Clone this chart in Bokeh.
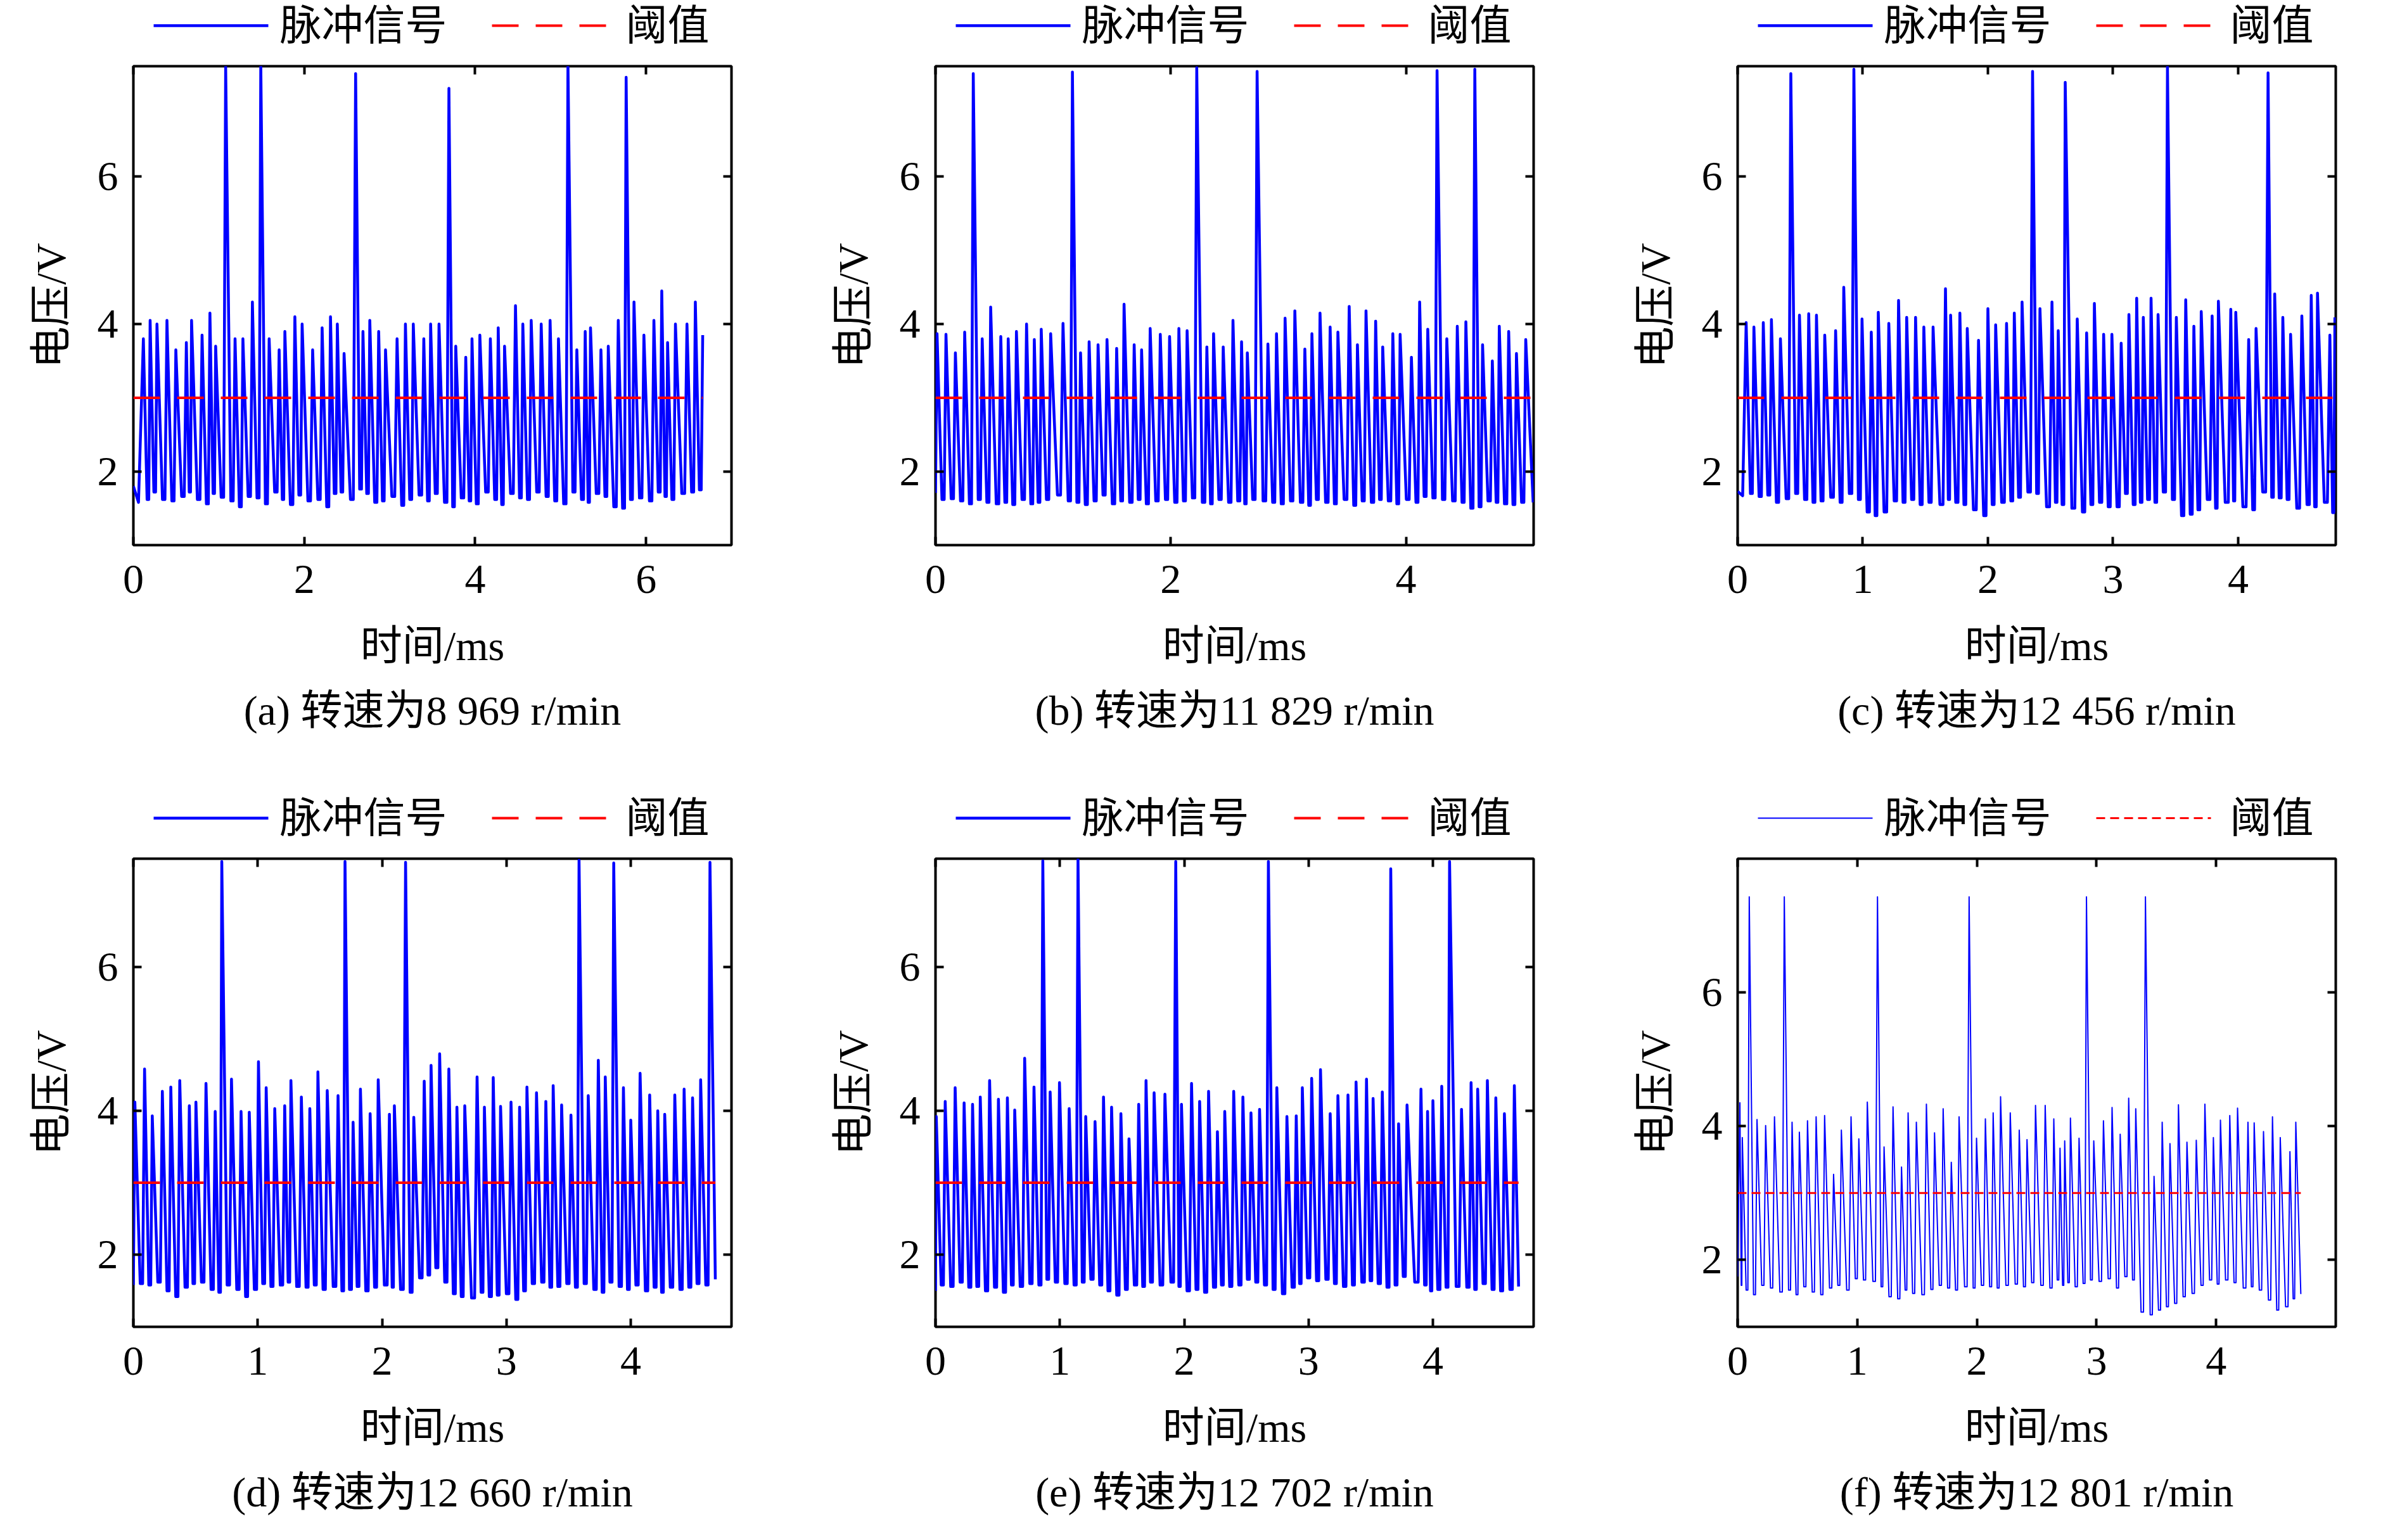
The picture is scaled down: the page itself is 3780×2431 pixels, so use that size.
import numpy as np

from bokeh.plotting import figure
from bokeh.layouts import column, row
from bokeh.models import Range1d, LinearAxis, FixedTicker, Title
from bokeh.core.properties import value
from bokeh.embed import file_html
from bokeh.resources import INLINE

# fonts: Times-like for latin, CJK falls back
FONT = "Liberation Serif, Noto Sans CJK SC"
FS = "66px"

THRESHOLD = 3.0
LEGEND_LABELS = ["脉冲信号", "阈值"]

# ---- panel (a) 8 969 r/min ----
A_PEAK_T = [0.117, 0.196, 0.276, 0.393, 0.497, 0.620, 0.681, 0.804, 0.896, 0.963,
            1.080, 1.190, 1.282, 1.393, 1.491, 1.589, 1.706, 1.773, 1.890, 1.975,
            2.098, 2.209, 2.307, 2.387, 2.466, 2.601, 2.687, 2.767, 2.871, 2.951,
            3.086, 3.184, 3.276, 3.399, 3.479, 3.577, 3.693, 3.773, 3.890, 3.963,
            4.055, 4.178, 4.270, 4.344, 4.472, 4.558, 4.656, 4.773, 4.877, 4.975,
            5.086, 5.190, 5.288, 5.350, 5.472, 5.558, 5.675, 5.767, 5.859, 5.975,
            6.092, 6.184, 6.252, 6.344, 6.479, 6.577, 6.663]
A_PEAK_V = [3.80, 4.05, 4.00, 4.05, 3.65, 3.75, 4.05, 3.85, 4.15, 3.70,
            7.50, 3.80, 3.80, 4.30, 7.55, 3.80, 3.65, 3.90, 4.10, 4.00,
            3.65, 3.95, 4.10, 4.00, 3.60, 7.40, 3.90, 4.05, 3.90, 3.65,
            3.80, 4.00, 4.00, 3.80, 4.00, 4.00, 7.20, 3.70, 3.55, 3.80,
            3.85, 3.80, 3.95, 3.70, 4.25, 4.00, 4.05, 4.00, 4.05, 3.80,
            7.55, 3.65, 3.90, 3.95, 3.65, 3.70, 4.05, 7.35, 4.30, 3.85,
            4.05, 4.45, 3.75, 4.00, 4.00, 4.30, 3.85]
A_LOW_V = [1.62, 1.72, 1.62, 1.60, 1.66, 1.72, 1.62, 1.56, 1.70, 1.65,
           1.60, 1.52, 1.66, 1.64, 1.56, 1.72, 1.62, 1.55, 1.68, 1.60,
           1.62, 1.52, 1.70, 1.72, 1.62, 1.76, 1.70, 1.58, 1.60, 1.66,
           1.54, 1.62, 1.68, 1.60, 1.70, 1.58, 1.52, 1.64, 1.60, 1.56,
           1.72, 1.62, 1.55, 1.70, 1.64, 1.62, 1.72, 1.66, 1.60, 1.56,
           1.72, 1.62, 1.58, 1.70, 1.66, 1.52, 1.50, 1.62, 1.64, 1.60,
           1.72, 1.66, 1.62, 1.70, 1.72, 1.75]
A_START_T, A_START_V = [0.0, 0.06], [1.80, 1.58]
A_END_T, A_END_V = [], []

# ---- panel (b) 11 829 r/min ----
B_PEAK_T = [0.013, 0.089, 0.169, 0.248, 0.321, 0.397, 0.469, 0.555, 0.618, 0.688,
            0.774, 0.840, 0.899, 0.979, 1.084, 1.164, 1.233, 1.306, 1.382, 1.458,
            1.540, 1.603, 1.689, 1.752, 1.825, 1.911, 1.990, 2.069, 2.139, 2.221,
            2.307, 2.364, 2.446, 2.529, 2.602, 2.651, 2.734, 2.826, 2.899, 2.972,
            3.055, 3.140, 3.200, 3.269, 3.355, 3.421, 3.517, 3.587, 3.660, 3.742,
            3.802, 3.888, 3.950, 4.046, 4.116, 4.185, 4.264, 4.347, 4.436, 4.509,
            4.585, 4.651, 4.734, 4.793, 4.873, 4.939, 5.018]
B_PEAK_V = [3.87, 3.86, 3.61, 3.89, 7.40, 3.80, 4.23, 3.83, 3.80, 3.90,
            4.00, 3.79, 3.93, 3.87, 4.01, 7.42, 3.61, 3.76, 3.72, 3.79,
            3.67, 4.27, 3.72, 3.65, 3.94, 3.86, 3.83, 3.94, 3.91, 7.48,
            3.69, 3.87, 3.69, 4.05, 3.76, 3.61, 7.43, 3.73, 3.87, 4.08,
            4.18, 3.66, 3.87, 4.15, 3.96, 3.89, 4.24, 3.72, 4.18, 4.04,
            3.69, 3.87, 3.86, 3.55, 4.30, 3.93, 7.44, 3.80, 3.97, 4.03,
            7.46, 3.72, 3.50, 3.97, 3.90, 3.60, 3.79]
B_LOW_V = [1.62, 1.63, 1.60, 1.56, 1.62, 1.58, 1.56, 1.58, 1.55, 1.62,
           1.56, 1.58, 1.62, 1.68, 1.60, 1.58, 1.55, 1.60, 1.68, 1.56,
           1.60, 1.58, 1.62, 1.56, 1.60, 1.62, 1.58, 1.60, 1.64, 1.58,
           1.56, 1.62, 1.58, 1.60, 1.56, 1.62, 1.60, 1.58, 1.56, 1.60,
           1.58, 1.54, 1.62, 1.58, 1.56, 1.62, 1.54, 1.60, 1.58, 1.62,
           1.60, 1.56, 1.62, 1.58, 1.66, 1.64, 1.62, 1.60, 1.58, 1.50,
           1.52, 1.60, 1.58, 1.56, 1.55, 1.58]
B_START_T, B_START_V = [0.0], [1.71]
B_END_T, B_END_V = [5.081], [1.58]

# ---- panel (c) 12 456 r/min ----
C_PEAK_T = [0.068, 0.130, 0.205, 0.270, 0.342, 0.425, 0.494, 0.568, 0.630, 0.696,
            0.783, 0.848, 0.929, 0.994, 1.068, 1.124, 1.208, 1.286, 1.351, 1.422,
            1.488, 1.562, 1.661, 1.702, 1.776, 1.835, 1.925, 2.000, 2.062, 2.149,
            2.211, 2.273, 2.357, 2.416, 2.512, 2.562, 2.618, 2.714, 2.789, 2.851,
            2.925, 2.991, 3.065, 3.127, 3.189, 3.242, 3.304, 3.360, 3.435, 3.506,
            3.581, 3.646, 3.705, 3.792, 3.842, 3.941, 3.981, 4.084, 4.143, 4.239,
            4.292, 4.357, 4.419, 4.509, 4.584, 4.634, 4.733, 4.773]
C_PEAK_V = [4.02, 3.96, 4.02, 4.06, 3.80, 7.40, 4.12, 4.14, 4.12, 3.85,
            3.91, 4.50, 7.46, 4.07, 3.89, 4.16, 4.01, 4.32, 4.09, 4.09,
            3.96, 3.96, 4.48, 4.12, 4.15, 3.94, 3.78, 4.21, 3.99, 4.01,
            4.15, 4.30, 7.43, 4.21, 4.30, 3.91, 7.28, 4.07, 3.88, 4.28,
            3.86, 3.86, 3.74, 4.13, 4.35, 4.09, 4.35, 4.13, 7.49, 4.09,
            4.33, 3.97, 4.17, 4.11, 4.31, 4.20, 4.16, 3.79, 3.94, 7.41,
            4.41, 4.09, 3.86, 4.11, 4.39, 4.42, 3.85, 4.09]
C_LOW_V = [1.70, 1.66, 1.68, 1.58, 1.63, 1.70, 1.62, 1.58, 1.60, 1.65,
           1.58, 1.70, 1.62, 1.45, 1.40, 1.45, 1.60, 1.58, 1.62, 1.55,
           1.58, 1.55, 1.62, 1.58, 1.55, 1.48, 1.40, 1.55, 1.58, 1.60,
           1.65, 1.72, 1.70, 1.52, 1.58, 1.55, 1.50, 1.45, 1.55, 1.58,
           1.52, 1.52, 1.70, 1.55, 1.58, 1.62, 1.58, 1.72, 1.62, 1.40,
           1.42, 1.48, 1.62, 1.50, 1.58, 1.60, 1.52, 1.48, 1.72, 1.65,
           1.64, 1.62, 1.50, 1.55, 1.52, 1.58, 1.44]
C_START_T, C_START_V = [0.0, 0.04], [1.73, 1.67]
C_END_T, C_END_V = [], []

# ---- panel (d) 12 660 r/min ----
D_PEAK_T = [0.012, 0.090, 0.152, 0.233, 0.301, 0.373, 0.450, 0.503, 0.584, 0.658,
            0.711, 0.789, 0.866, 0.932, 1.006, 1.068, 1.137, 1.217, 1.267, 1.351,
            1.419, 1.484, 1.559, 1.646, 1.702, 1.767, 1.826, 1.904, 1.969, 2.059,
            2.099, 2.189, 2.255, 2.339, 2.394, 2.463, 2.537, 2.602, 2.665, 2.764,
            2.823, 2.894, 2.953, 3.037, 3.106, 3.165, 3.242, 3.317, 3.376, 3.444,
            3.519, 3.584, 3.658, 3.739, 3.795, 3.863, 3.941, 4.000, 4.075, 4.152,
            4.217, 4.273, 4.354, 4.429, 4.497, 4.562, 4.637]
D_PEAK_V = [4.12, 4.58, 3.93, 4.27, 4.33, 4.42, 4.07, 4.12, 4.38, 3.99,
            7.46, 4.44, 3.99, 3.98, 4.68, 4.32, 4.03, 4.07, 4.42, 4.19,
            4.03, 4.54, 4.28, 4.21, 7.46, 3.84, 4.30, 3.96, 4.43, 3.95,
            4.07, 7.45, 3.91, 4.41, 4.63, 4.79, 4.58, 4.05, 4.07, 4.47,
            4.05, 4.46, 4.06, 4.12, 4.05, 4.33, 4.25, 4.13, 4.35, 4.08,
            3.94, 7.48, 4.21, 4.70, 4.47, 7.44, 4.32, 3.87, 4.52, 4.22,
            4.00, 3.95, 4.22, 4.30, 4.18, 4.43, 7.45]
D_LOW_V = [1.60, 1.58, 1.62, 1.50, 1.42, 1.55, 1.60, 1.62, 1.52, 1.48,
           1.58, 1.52, 1.42, 1.52, 1.60, 1.56, 1.58, 1.62, 1.56, 1.55,
           1.58, 1.52, 1.56, 1.50, 1.52, 1.56, 1.50, 1.55, 1.58, 1.55,
           1.52, 1.48, 1.68, 1.72, 1.82, 1.62, 1.46, 1.42, 1.40, 1.48,
           1.42, 1.44, 1.46, 1.38, 1.50, 1.60, 1.62, 1.55, 1.56, 1.60,
           1.55, 1.60, 1.52, 1.48, 1.62, 1.56, 1.52, 1.58, 1.50, 1.55,
           1.48, 1.55, 1.52, 1.55, 1.60, 1.58]
D_START_T, D_START_V = [0.0], [1.58]
D_END_T, D_END_V = [4.680], [1.66]

# ---- panel (e) 12 702 r/min ----
E_PEAK_T = [0.006, 0.078, 0.158, 0.230, 0.298, 0.360, 0.435, 0.506, 0.578, 0.637,
            0.717, 0.792, 0.863, 0.922, 0.997, 1.075, 1.146, 1.208, 1.283, 1.351,
            1.416, 1.491, 1.556, 1.634, 1.693, 1.758, 1.845, 1.932, 1.978, 2.059,
            2.124, 2.196, 2.267, 2.326, 2.398, 2.472, 2.537, 2.606, 2.677, 2.745,
            2.826, 2.901, 2.950, 3.025, 3.096, 3.174, 3.236, 3.317, 3.382, 3.466,
            3.519, 3.593, 3.661, 3.724, 3.792, 3.904, 3.957, 4.000, 4.071, 4.134,
            4.230, 4.307, 4.360, 4.438, 4.506, 4.575, 4.655]
E_PEAK_V = [3.92, 4.13, 4.32, 4.11, 4.09, 4.19, 4.42, 4.16, 4.18, 4.01,
            4.73, 4.33, 7.47, 4.26, 4.39, 4.03, 7.49, 3.92, 3.85, 4.19,
            4.05, 3.96, 3.61, 4.09, 4.42, 4.25, 4.23, 7.46, 4.09, 4.38,
            4.13, 4.27, 3.71, 3.99, 4.27, 4.19, 3.97, 4.02, 7.46, 4.32,
            3.92, 3.93, 4.32, 4.45, 4.57, 3.96, 4.21, 4.22, 4.40, 4.44,
            4.17, 4.26, 7.36, 3.82, 4.08, 4.30, 3.99, 4.14, 4.34, 7.46,
            4.02, 4.39, 4.30, 4.42, 4.18, 3.96, 4.35]
E_LOW_V = [1.58, 1.56, 1.62, 1.55, 1.56, 1.50, 1.55, 1.48, 1.58, 1.56,
           1.60, 1.58, 1.66, 1.62, 1.60, 1.58, 1.62, 1.66, 1.58, 1.50,
           1.44, 1.52, 1.58, 1.56, 1.62, 1.58, 1.62, 1.56, 1.50, 1.52,
           1.48, 1.55, 1.58, 1.56, 1.58, 1.66, 1.62, 1.58, 1.52, 1.46,
           1.55, 1.60, 1.68, 1.64, 1.66, 1.60, 1.56, 1.58, 1.62, 1.64,
           1.60, 1.55, 1.58, 1.70, 1.62, 1.58, 1.50, 1.52, 1.55, 1.56,
           1.55, 1.52, 1.60, 1.52, 1.50, 1.52]
E_START_T, E_START_V = [0.0], [1.50]
E_END_T, E_END_V = [4.689], [1.56]

# ---- panel (f) 12 801 r/min ----
F_PEAK_T = [0.019, 0.039, 0.097, 0.162, 0.234, 0.308, 0.390, 0.455, 0.516, 0.584,
            0.656, 0.727, 0.802, 0.867, 0.948, 1.013, 1.084, 1.169, 1.224, 1.299,
            1.370, 1.425, 1.494, 1.578, 1.646, 1.718, 1.786, 1.851, 1.935, 1.997,
            2.071, 2.136, 2.198, 2.279, 2.354, 2.419, 2.490, 2.571, 2.643, 2.695,
            2.734, 2.782, 2.854, 2.916, 2.977, 3.058, 3.130, 3.198, 3.269, 3.328,
            3.409, 3.481, 3.549, 3.614, 3.685, 3.756, 3.834, 3.906, 3.977, 4.036,
            4.114, 4.179, 4.266, 4.318, 4.396, 4.471, 4.536, 4.617, 4.666]
F_PEAK_V = [4.35, 3.83, 7.43, 4.10, 4.01, 4.14, 7.43, 4.06, 3.91, 4.08,
            4.14, 4.16, 3.28, 3.94, 4.14, 3.81, 4.36, 7.43, 3.69, 4.29,
            3.39, 4.20, 4.06, 4.33, 3.90, 4.26, 3.46, 4.14, 7.43, 3.82,
            4.11, 4.20, 4.44, 4.20, 3.94, 3.80, 4.31, 4.31, 4.11, 3.67,
            3.78, 4.12, 3.82, 7.43, 3.78, 4.08, 4.28, 3.88, 4.42, 4.26,
            7.43, 3.25, 4.06, 3.74, 4.32, 3.76, 3.79, 4.33, 3.83, 4.09,
            4.16, 4.27, 4.06, 4.05, 3.92, 4.14, 3.83, 3.62, 4.06]
F_LOW_V = [1.62, 1.55, 1.48, 1.62, 1.58, 1.52, 1.55, 1.48, 1.60, 1.52,
           1.48, 1.58, 1.62, 1.55, 1.72, 1.70, 1.68, 1.60, 1.45, 1.42,
           1.55, 1.50, 1.48, 1.56, 1.62, 1.58, 1.55, 1.60, 1.58, 1.62,
           1.60, 1.58, 1.62, 1.64, 1.60, 1.66, 1.62, 1.58, 1.70, 1.62,
           1.66, 1.60, 1.65, 1.70, 1.68, 1.72, 1.58, 1.75, 1.70, 1.22,
           1.18, 1.25, 1.30, 1.35, 1.45, 1.50, 1.62, 1.70, 1.64, 1.70,
           1.66, 1.58, 1.60, 1.55, 1.40, 1.25, 1.30, 1.42]
F_START_T, F_START_V = [0.0], [1.75]
F_END_T, F_END_V = [4.708], [1.49]


def waveform(peak_t, peak_v, low_v, start_t, start_v, end_t, end_v):
    # connect read peaks with the read baseline level between them
    t = list(start_t)
    v = list(start_v)
    for i in range(len(peak_t)):
        if i > 0:
            gap = peak_t[i] - peak_t[i - 1]
            t += [peak_t[i - 1] + 0.55 * gap, peak_t[i] - 0.2 * gap]
            v += [low_v[i - 1], low_v[i - 1]]
        t.append(peak_t[i])
        v.append(peak_v[i])
    t += list(end_t)
    v += list(end_v)
    return np.array(t), np.array(v)


def style_axis(ax):
    ax.axis_line_color = None
    ax.major_tick_in = 13
    ax.major_tick_out = 0
    ax.major_tick_line_width = 4
    ax.major_tick_line_color = "black"
    ax.minor_tick_line_color = None
    ax.major_label_text_font = FONT
    ax.major_label_text_font_size = FS
    ax.major_label_text_color = "black"


def line_styles(thin):
    if thin:
        return 2, 3, "14 8"
    return 4.5, 4, "42 27"


FRAME_W = 944       # plot box width; the legend strip shares it in the column
BORDER_TOP = 104
LEG_H = 96          # height of the legend strip above each panel
LEG_Y = 56          # key line / label centre inside the strip (from bottom)
KEY_X = [(32, 213), (566, 747)]
LABEL_X = [231, 777]


def make_legend(width, thin=False):
    # legend strip: key line + label for the signal and the threshold
    sig_w, thr_w, dash = line_styles(thin)
    lf = figure(width=width, height=LEG_H, title=None, output_backend="svg",
                toolbar_location=None, x_axis_type=None, y_axis_type=None,
                x_range=Range1d(0, FRAME_W), y_range=Range1d(0, LEG_H),
                min_border=0, outline_line_color=None)
    lf.grid.visible = False
    lf.line(list(KEY_X[0]), [LEG_Y, LEG_Y], line_color="#0000FF", line_width=sig_w)
    lf.line(list(KEY_X[1]), [LEG_Y, LEG_Y], line_color="#FF0000", line_width=thr_w,
            line_dash=dash)
    lf.text(x=LABEL_X, y=[LEG_Y, LEG_Y], text=LEGEND_LABELS,
            text_font=value(FONT), text_font_size=FS, text_color="black",
            text_baseline="middle", text_align="left")
    return lf


def make_panel(caption, wave, x_end, x_ticks, y_end, width, height,
               border_right, border_bottom, thin=False):
    t, v = wave
    p = figure(width=width, height=height - LEG_H, title=None,
               x_range=Range1d(0, x_end), y_range=Range1d(1, y_end),
               output_backend="svg", toolbar_location=None,
               min_border_left=210, min_border_right=border_right,
               min_border_top=BORDER_TOP - LEG_H, min_border_bottom=border_bottom)
    p.grid.visible = False
    p.outline_line_color = "black"
    p.outline_line_width = 4
    p.outline_line_alpha = 1.0
    p.background_fill_color = "white"
    p.border_fill_color = "white"

    xb = p.below[0]
    yl = p.left[0]
    xb.ticker = FixedTicker(ticks=x_ticks)
    yl.ticker = FixedTicker(ticks=[2, 4, 6])
    style_axis(xb)
    style_axis(yl)
    xb.major_label_standoff = 32
    yl.major_label_standoff = 24
    xb.axis_label = "时间/ms"
    yl.axis_label = "电压/V"
    for ax in (xb, yl):
        ax.axis_label_text_font = FONT
        ax.axis_label_text_font_size = FS
        ax.axis_label_text_font_style = "normal"
        ax.axis_label_text_color = "black"
    xb.axis_label_standoff = 44
    yl.axis_label_standoff = 34

    # mirrored tick marks on the top and right edges of the box
    top_axis = LinearAxis(ticker=FixedTicker(ticks=x_ticks),
                          major_label_overrides={k: "" for k in x_ticks})
    right_axis = LinearAxis(ticker=FixedTicker(ticks=[2, 4, 6]),
                            major_label_overrides={2: "", 4: "", 6: ""})
    for ax in (top_axis, right_axis):
        style_axis(ax)
        ax.major_label_text_font_size = "0px"
        ax.major_label_standoff = 0
    p.add_layout(top_axis, "above")
    p.add_layout(right_axis, "right")

    sig_w, thr_w, dash = line_styles(thin)
    p.line(t, v, line_color="#0000FF", line_width=sig_w, line_join="round")
    p.line([t[0], t[-1]], [THRESHOLD, THRESHOLD], line_color="#FF0000",
           line_width=thr_w, line_dash=dash)

    p.add_layout(Title(text=caption, align="center", text_font=FONT,
                       text_font_size=FS, text_font_style="normal",
                       text_color="black", standoff=48), "below")
    return column(make_legend(width, thin), p, spacing=0)


W_AB, W_C = 1266, 1194
H1, H2 = 1251, 1164

pa = make_panel("(a) 转速为8 969 r/min",
                waveform(A_PEAK_T, A_PEAK_V, A_LOW_V, A_START_T, A_START_V, A_END_T, A_END_V),
                7.0, [0, 2, 4, 6], 7.5, W_AB, H1, 112, 391)
pb = make_panel("(b) 转速为11 829 r/min",
                waveform(B_PEAK_T, B_PEAK_V, B_LOW_V, B_START_T, B_START_V, B_END_T, B_END_V),
                5.085, [0, 2, 4], 7.5, W_AB, H1, 112, 391)
pc = make_panel("(c) 转速为12 456 r/min",
                waveform(C_PEAK_T, C_PEAK_V, C_LOW_V, C_START_T, C_START_V, C_END_T, C_END_V),
                4.78, [0, 1, 2, 3, 4], 7.5, W_C, H1, 40, 391)
pd = make_panel("(d) 转速为12 660 r/min",
                waveform(D_PEAK_T, D_PEAK_V, D_LOW_V, D_START_T, D_START_V, D_END_T, D_END_V),
                4.81, [0, 1, 2, 3, 4], 7.5, W_AB, H2, 112, 304)
pe = make_panel("(e) 转速为12 702 r/min",
                waveform(E_PEAK_T, E_PEAK_V, E_LOW_V, E_START_T, E_START_V, E_END_T, E_END_V),
                4.81, [0, 1, 2, 3, 4], 7.5, W_AB, H2, 112, 304)
pf = make_panel("(f) 转速为12 801 r/min",
                waveform(F_PEAK_T, F_PEAK_V, F_LOW_V, F_START_T, F_START_V, F_END_T, F_END_V),
                5.0, [0, 1, 2, 3, 4], 8.0, W_C, H2, 40, 304, thin=True)

layout = column(row(pa, pb, pc, spacing=0), row(pd, pe, pf, spacing=0), spacing=0)

open("out.html", "w", encoding="utf-8").write(file_html(layout, INLINE, title="脉冲信号"))
